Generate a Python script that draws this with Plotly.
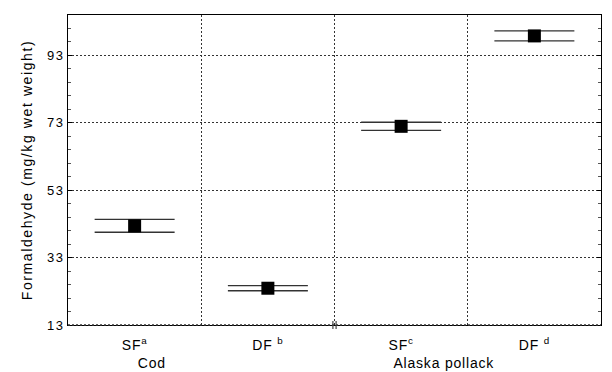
import plotly.graph_objects as go

categories = ["SF<sup>a</sup>", "DF <sup>b</sup>", "SF<sup>c</sup>", "DF <sup>d</sup>"]
means = [42.4, 23.9, 71.9, 98.7]
errors = [1.9, 0.75, 1.2, 1.5]
y_ticks = [13, 33, 53, 73, 93]
group_labels = ["Cod", "Alaska pollack"]

fig = go.Figure()
fig.add_trace(go.Scatter(
    x=categories, y=means, mode="markers",
    marker=dict(symbol="square", size=13, color="black", line=dict(width=0)),
    error_y=dict(type="data", array=errors, visible=True, width=40,
                 thickness=1.3, color="#333"),
    showlegend=False,
))

font = "Arial, Liberation Sans, sans-serif"
fig.update_layout(
    width=612, height=372,
    margin=dict(l=68, r=11, t=15, b=47),
    paper_bgcolor="white", plot_bgcolor="white",
    font=dict(family=font, color="black"),
    xaxis=dict(
        type="category", range=[-0.5, 3.5],
        tickson="boundaries", showgrid=True, gridcolor="#333", griddash="2px,2px",
        gridwidth=1, ticks="", showline=True, linecolor="black", mirror=True,
        tickfont=dict(size=14), ticklabelstandoff=7,
    ),
    yaxis=dict(
        range=[13, 104.9], tickvals=y_ticks, showgrid=True,
        gridcolor="#333", griddash="2px,2px", gridwidth=1,
        ticks="inside", ticklen=4, tickcolor="black",
        minor=dict(tick0=13, dtick=4, ticks="inside", ticklen=3, tickcolor="#555", showgrid=False),
        showline=True, linecolor="black", mirror="ticks", zeroline=False,
        tickfont=dict(size=13),
        title=dict(text="Formaldehyde (mg/kg wet weight)", font=dict(size=14), standoff=14),
    ),
)

# dotted bottom line
fig.add_shape(type="line", xref="paper", yref="paper", x0=0, x1=1, y0=0, y1=0,
              line=dict(color="#333", width=1.3, dash="2px,2px"))
# axis break mark
for xb in (0.497, 0.503):
    fig.add_shape(type="line", xref="paper", yref="paper", x0=xb, x1=xb, y0=-0.013, y1=0.013,
                  line=dict(color="#444", width=1.2))

for txt, xp in zip(group_labels, [0.158, 0.705]):
    fig.add_annotation(text=txt, xref="paper", yref="paper", x=xp, y=-0.123,
                       showarrow=False, font=dict(size=14), xanchor="center", yanchor="middle")

post = """
document.body.style.margin='0';
document.querySelectorAll('.ytitle').forEach(function(e){e.style.letterSpacing='1.6px';});
document.querySelectorAll('.ytick text').forEach(function(e){e.style.letterSpacing='1.5px';});
document.querySelectorAll('.xtick text, .annotation-text').forEach(function(e){e.style.letterSpacing='0.8px';});
"""
fig.write_html("out.html", post_script=post, config={"displayModeBar": False})
